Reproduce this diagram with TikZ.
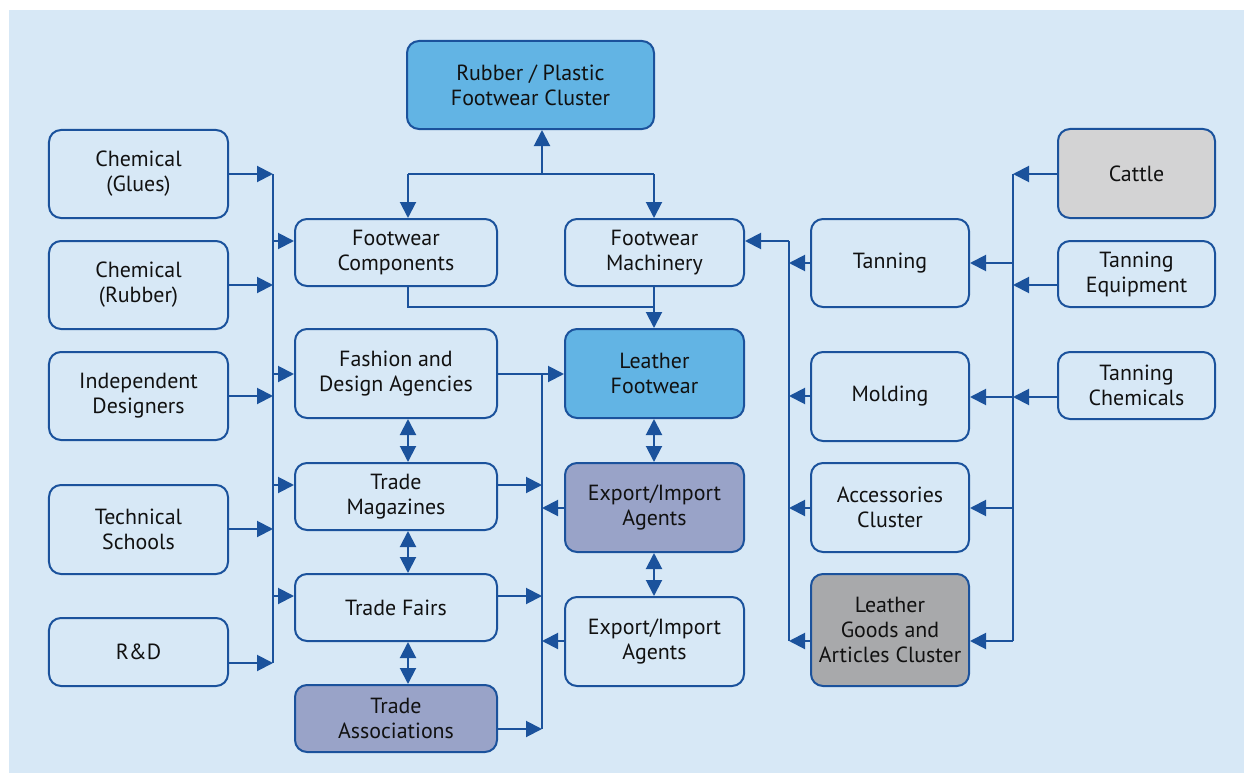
\documentclass[tikz,border=0pt]{standalone}
\usepackage{fontspec}
\setmainfont{PT Sans}
\usetikzlibrary{arrows.meta}
\definecolor{bgblue}{HTML}{D7E8F6}
\definecolor{lineblue}{HTML}{1B529C}
\definecolor{hiblue}{HTML}{62B4E4}
\definecolor{purp}{HTML}{99A3C8}
\definecolor{lgray}{HTML}{D3D3D4}
\definecolor{dgray}{HTML}{A8A9AB}
\definecolor{txt}{HTML}{111111}
\tikzset{
  box/.style={draw=lineblue, line width=2bp, rounded corners=12bp, align=center,
    text=txt, font=\fontsize{22}{25}\selectfont, inner sep=0pt},
  conn/.style={draw=lineblue, line width=2bp},
  arr/.style={conn, -{Triangle[length=16bp,width=16bp]}},
  darr/.style={conn, {Triangle[length=16bp,width=16bp]}-{Triangle[length=16bp,width=16bp]}},
}
\begin{document}
\begin{tikzpicture}[x=1bp,y=-1bp]
\useasboundingbox (0,0) rectangle (1244,773);
\fill[bgblue] (9,10) rectangle (1244,773);

% left column
\node[box, minimum width=179bp, minimum height=88bp] (glues) at (138.5,174) {Chemical\\(Glues)};
\node[box, minimum width=179bp, minimum height=88bp] (rubber) at (138.5,285) {Chemical\\(Rubber)};
\node[box, minimum width=179bp, minimum height=88bp] (indep) at (138.5,396) {Independent\\Designers};
\node[box, minimum width=179bp, minimum height=89bp] (tech) at (138.5,529.5) {Technical\\Schools};
\node[box, minimum width=179bp, minimum height=68bp] (rd) at (138.5,652) {R\&D};

% middle-left column
\node[box, minimum width=202bp, minimum height=67bp] (fcomp) at (396,252.5) {Footwear\\Components};
\node[box, minimum width=202bp, minimum height=89bp] (fashion) at (396,373.5) {Fashion and\\Design Agencies};
\node[box, minimum width=202bp, minimum height=67bp] (tmag) at (396,496.5) {Trade\\Magazines};
\node[box, minimum width=202bp, minimum height=67bp] (tfairs) at (396,607.5) {Trade Fairs};
\node[box, fill=purp, minimum width=202bp, minimum height=67bp] (tassoc) at (396,718.5) {Trade\\Associations};

% middle-right column
\node[box, fill=hiblue, minimum width=247bp, minimum height=88bp] (rubberp) at (530.5,85) {Rubber / Plastic\\Footwear Cluster};
\node[box, minimum width=179bp, minimum height=67bp] (fmach) at (654.5,252.5) {Footwear\\Machinery};
\node[box, fill=hiblue, minimum width=179bp, minimum height=89bp] (lfoot) at (654.5,373.5) {Leather\\Footwear};
\node[box, fill=purp, minimum width=179bp, minimum height=89bp] (eia1) at (654.5,507.5) {Export/Import\\Agents};
\node[box, minimum width=179bp, minimum height=89bp] (eia2) at (654.5,641.5) {Export/Import\\Agents};

% right column
\node[box, minimum width=158bp, minimum height=88bp] (tanning) at (890,263) {Tanning};
\node[box, minimum width=158bp, minimum height=89bp] (molding) at (890,396.5) {Molding};
\node[box, minimum width=158bp, minimum height=89bp] (access) at (890,507.5) {Accessories\\Cluster};
\node[box, fill=dgray, minimum width=158bp, minimum height=112bp] (lgoods) at (890,630) {Leather\\Goods and\\Articles Cluster};

% far right column
\node[box, fill=lgray, minimum width=157bp, minimum height=89bp] (cattle) at (1136.5,173.5) {Cattle};
\node[box, minimum width=157bp, minimum height=66bp] (tequip) at (1136.5,274) {Tanning\\Equipment};
\node[box, minimum width=157bp, minimum height=67bp] (tchem) at (1136.5,385.5) {Tanning\\Chemicals};

% ---- left bus
\coordinate (lb1) at (273,174);
\coordinate (lb2) at (273,285);
\coordinate (lb3) at (273,396);
\coordinate (lb4) at (273,529);
\coordinate (lb5) at (273,663);
\coordinate (lo1) at (273,241);
\coordinate (lo2) at (273,374);
\coordinate (lo3) at (273,485);
\coordinate (lo4) at (273,596);
\draw[conn] (lb1) -- (lb5);
\draw[arr] (glues.east |- lb1) -- (lb1);
\draw[arr] (rubber.east |- lb2) -- (lb2);
\draw[arr] (indep.east |- lb3) -- (lb3);
\draw[arr] (tech.east |- lb4) -- (lb4);
\draw[arr] (rd.east |- lb5) -- (lb5);
\draw[arr] (lo1) -- (fcomp.west |- lo1);
\draw[arr] (lo2) -- (fashion.west |- lo2);
\draw[arr] (lo3) -- (tmag.west |- lo3);
\draw[arr] (lo4) -- (tfairs.west |- lo4);

% ---- vertical double arrows, middle-left
\coordinate (dx) at (408,0);
\draw[darr] (fashion.south -| dx) -- (tmag.north -| dx);
\draw[darr] (tmag.south -| dx) -- (tfairs.north -| dx);
\draw[darr] (tfairs.south -| dx) -- (tassoc.north -| dx);

% ---- top tree
\coordinate (tj) at (542,174);
\coordinate (tl) at (408,174);
\coordinate (tr) at (654,174);
\draw[arr] (tj) -- (rubberp.south -| tj);
\draw[conn] (tl) -- (tr);
\draw[arr] (tl) -- (fcomp.north -| tl);
\draw[arr] (tr) -- (fmach.north -| tr);
\coordinate (bj) at (408,307);
\coordinate (bk) at (654,307);
\draw[conn] (fcomp.south -| bj) -- (bj) -- (bk);
\draw[arr] (fmach.south -| bk) -- (lfoot.north -| bk);

% ---- middle bus
\coordinate (mb1) at (542,374);
\coordinate (mb2) at (542,485);
\coordinate (mb3) at (542,596);
\coordinate (mb4) at (542,729);
\coordinate (mb5) at (542,508);
\coordinate (mb6) at (542,641);
\draw[conn] (mb1) -- (mb4);
\draw[arr] (fashion.east |- mb1) -- (lfoot.west |- mb1);
\draw[arr] (tmag.east |- mb2) -- (mb2);
\draw[arr] (tfairs.east |- mb3) -- (mb3);
\draw[arr] (tassoc.east |- mb4) -- (mb4);
\draw[arr] (eia1.west |- mb5) -- (mb5);
\draw[arr] (eia2.west |- mb6) -- (mb6);

% ---- vertical double arrows, middle-right
\coordinate (ex) at (654,0);
\draw[darr] (lfoot.south -| ex) -- (eia1.north -| ex);
\draw[darr] (eia1.south -| ex) -- (eia2.north -| ex);

% ---- right bus
\coordinate (rb0) at (789,241);
\coordinate (rb1) at (789,263);
\coordinate (rb2) at (789,396);
\coordinate (rb3) at (789,508);
\coordinate (rb4) at (789,641);
\draw[conn] (rb0) -- (rb4);
\draw[arr] (rb0) -- (fmach.east |- rb0);
\draw[arr] (tanning.west |- rb1) -- (rb1);
\draw[arr] (molding.west |- rb2) -- (rb2);
\draw[arr] (access.west |- rb3) -- (rb3);
\draw[arr] (lgoods.west |- rb4) -- (rb4);

% ---- far right bus
\coordinate (fb1) at (1013,174);
\coordinate (fb2) at (1013,285);
\coordinate (fb3) at (1013,397);
\coordinate (fo1) at (1013,263);
\coordinate (fo2) at (1013,397);
\coordinate (fo3) at (1013,508);
\coordinate (fo4) at (1013,641);
\draw[conn] (fb1) -- (fo4);
\draw[arr] (cattle.west |- fb1) -- (fb1);
\draw[arr] (tequip.west |- fb2) -- (fb2);
\draw[arr] (tchem.west |- fb3) -- (fb3);
\draw[arr] (fo1) -- (tanning.east |- fo1);
\draw[arr] (fo2) -- (molding.east |- fo2);
\draw[arr] (fo3) -- (access.east |- fo3);
\draw[arr] (fo4) -- (lgoods.east |- fo4);
\end{tikzpicture}
\end{document}
